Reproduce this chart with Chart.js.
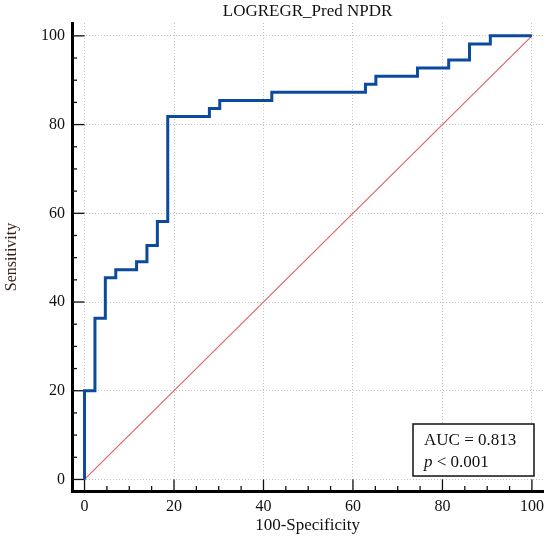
<!DOCTYPE html>
<html>
<head>
<meta charset="utf-8">
<script src="https://cdn.jsdelivr.net/npm/chart.js@4"></script>
<style>
  html, body { margin: 0; padding: 0; background: #fff; }
  #wrap { width: 550px; height: 542px; }
</style>
</head>
<body>
<div id="wrap"><canvas id="roc"></canvas></div>
<script>
// ROC curve points (100-Specificity, Sensitivity)
const fprPts = [0, 0, 2.33, 4.65, 6.98, 11.63, 13.95, 16.28, 18.6, 27.91, 30.23, 41.86, 62.79, 65.12, 74.42, 81.4, 86.05, 90.7, 100];
const tprPts = [0, 20, 36.36, 45.45, 47.27, 49.09, 52.73, 58.18, 81.82, 83.64, 85.45, 87.27, 89.09, 90.91, 92.73, 94.55, 98.18, 100, 100];

// chance diagonal
const diagX = [0, 100];
const diagY = [0, 100];

const titleText = 'LOGREGR_Pred NPDR';
const xTitle = '100-Specificity';
const yTitle = 'Sensitivity';
const aucLines = ['AUC = 0.813', 'p < 0.001'];

const SERIF = '"Liberation Serif", "DejaVu Serif", serif';

// title centred over the plot, inward ticks, AUC box
const decor = {
    id: 'decor',
    beforeDatasetsDraw(chart) {
        const { ctx, chartArea: a, scales: { x, y } } = chart;
        ctx.save();
        ctx.strokeStyle = '#111';
        ctx.lineWidth = 1.3;
        const majX = a.bottom - y.getPixelForValue(0);
        const majY = x.getPixelForValue(0) - a.left;
        x.ticks.forEach(t => {
            const px = x.getPixelForValue(t.value);
            const len = t.value % 20 === 0 ? majX : 5;
            ctx.beginPath();
            ctx.moveTo(px, a.bottom);
            ctx.lineTo(px, a.bottom - len);
            ctx.stroke();
        });
        y.ticks.forEach(t => {
            const py = y.getPixelForValue(t.value);
            const len = t.value % 20 === 0 ? majY : 5;
            ctx.beginPath();
            ctx.moveTo(a.left, py);
            ctx.lineTo(a.left + len, py);
            ctx.stroke();
        });
        ctx.restore();
    },
    afterDraw(chart) {
        const { ctx, chartArea: a } = chart;
        ctx.save();
        // title
        ctx.fillStyle = '#111';
        ctx.font = '17px ' + SERIF;
        ctx.textAlign = 'center';
        ctx.textBaseline = 'alphabetic';
        ctx.fillText(titleText, (a.left + a.right) / 2, 16);

        // AUC box
        const bx = 413, bw = 121, by = 424, bh = 52;
        ctx.fillStyle = '#fff';
        ctx.fillRect(bx, by, bw, bh);
        ctx.strokeStyle = '#111';
        ctx.lineWidth = 1.5;
        ctx.strokeRect(bx, by, bw, bh);
        ctx.fillStyle = '#111';
        ctx.textAlign = 'left';
        ctx.font = '17px ' + SERIF;
        ctx.fillText(aucLines[0], bx + 11, by + 21);
        ctx.font = 'italic 17px ' + SERIF;
        ctx.fillText('p', bx + 11, by + 43);
        const pw = ctx.measureText('p ').width;
        ctx.font = '17px ' + SERIF;
        ctx.fillText(aucLines[1].slice(2), bx + 11 + pw, by + 43);
        ctx.restore();
    }
};

const gridColor = c => (c.tick && c.tick.value % 20 === 0) ? '#c2c2c2' : 'rgba(0,0,0,0)';

new Chart(document.getElementById('roc'), {
    type: 'line',
    data: {
        datasets: [{
            data: fprPts.map((v, i) => ({ x: v, y: tprPts[i] })),
            borderColor: '#0c4a9c',
            borderWidth: 3,
            stepped: 'before',
            pointRadius: 0,
            fill: false
        }, {
            data: diagX.map((v, i) => ({ x: v, y: diagY[i] })),
            borderColor: '#e35a66',
            borderWidth: 1.1,
            pointRadius: 0,
            fill: false
        }]
    },
    options: {
        responsive: true,
        maintainAspectRatio: false,
        animation: false,
        layout: { padding: { top: 23, right: 3, left: 0, bottom: 0 } },
        plugins: {
            legend: { display: false },
            tooltip: { enabled: false },
            title: { display: false }
        },
        scales: {
            x: {
                type: 'linear',
                min: -2.8,
                max: 102.5,
                afterFit: s => { s.height = 51; },
                ticks: {
                    stepSize: 5,
                    includeBounds: false,
                    autoSkip: false,
                    maxRotation: 0,
                    padding: 6,
                    color: '#111',
                    font: { family: SERIF, size: 16 },
                    callback: v => v % 20 === 0 ? v : ''
                },
                grid: { color: gridColor, lineWidth: 1, drawTicks: false },
                border: { display: true, color: '#000', width: 3, dash: [1, 2] },
                title: {
                    display: true,
                    text: xTitle,
                    color: '#111',
                    font: { family: SERIF, size: 17 },
                    padding: { top: 0, bottom: 6 }
                }
            },
            y: {
                type: 'linear',
                min: -2.6,
                max: 102.9,
                afterFit: s => { s.width = 72; },
                ticks: {
                    stepSize: 5,
                    includeBounds: false,
                    autoSkip: false,
                    padding: 7,
                    color: '#111',
                    font: { family: SERIF, size: 16 },
                    callback: v => v % 20 === 0 ? v : ''
                },
                grid: { color: gridColor, lineWidth: 1, drawTicks: false },
                border: { display: true, color: '#000', width: 3, dash: [1, 2] },
                title: {
                    display: true,
                    text: yTitle,
                    color: '#3a1e1e',
                    font: { family: SERIF, size: 16 },
                    padding: { top: 2, bottom: 0 }
                }
            }
        }
    },
    plugins: [decor]
});
</script>
</body>
</html>
